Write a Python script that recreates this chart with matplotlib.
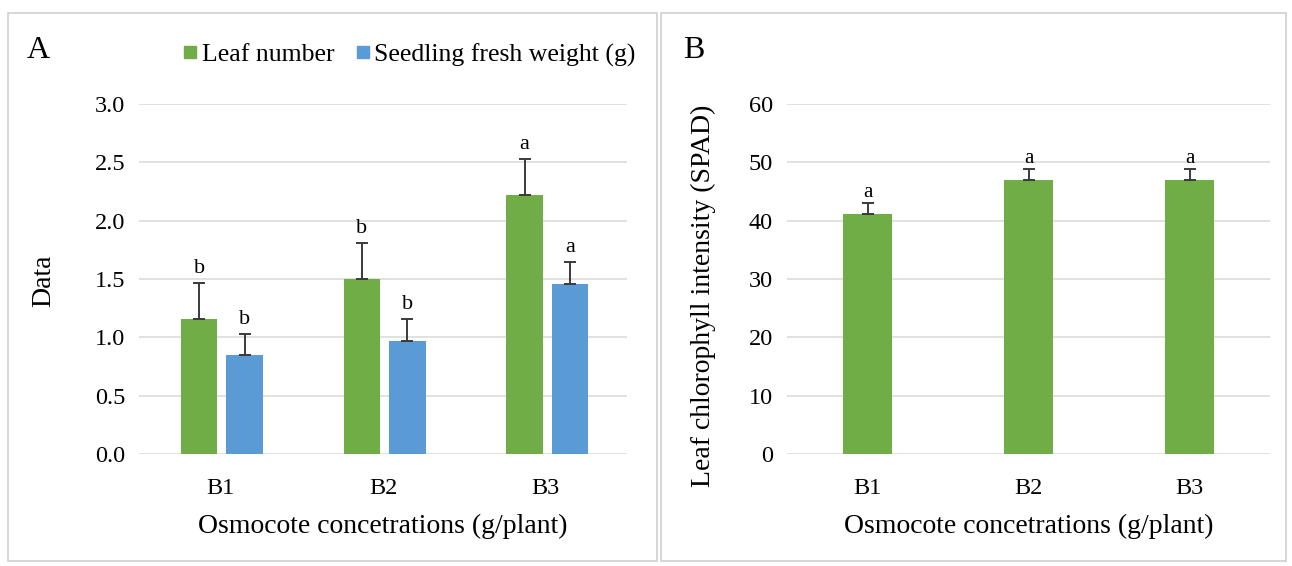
import matplotlib
matplotlib.use("Agg")
import matplotlib.pyplot as plt
from matplotlib.patches import Rectangle
import numpy as np

# Data
categories = ["B1", "B2", "B3"]
leaf_number = [1.16, 1.50, 2.22]
leaf_number_err = [0.31, 0.31, 0.31]
leaf_number_sig = ["b", "b", "a"]
fresh_weight = [0.85, 0.97, 1.46]
fresh_weight_err = [0.18, 0.19, 0.19]
fresh_weight_sig = ["b", "b", "a"]
spad = [41.1, 47.0, 47.0]
spad_err = [2.0, 1.9, 1.9]
spad_sig = ["a", "a", "a"]

green = "#70AD47"
blue = "#5B9BD5"
grid_col = "#D9D9D9"
err_col = "#3A3A3A"

plt.rcParams["font.family"] = ["Liberation Serif", "DejaVu Serif"]

W, H = 1292, 566
fig = plt.figure(figsize=(W / 100, H / 100), dpi=100)


def px_axes(x0, y0, x1, y1):
    # pixel box (top-left origin) -> figure axes
    return fig.add_axes([x0 / W, 1 - y1 / H, (x1 - x0) / W, (y1 - y0) / H])


def style_axes(ax, ymax, yticks, fmt):
    ax.set_ylim(0, ymax)
    ax.set_xlim(-0.5, 2.5)
    ax.set_yticks(yticks)
    ax.set_yticklabels([fmt.format(t) for t in yticks])
    ax.yaxis.grid(True, color=grid_col, linewidth=1.1)
    ax.set_axisbelow(True)
    for s in ax.spines.values():
        s.set_visible(False)
    ax.tick_params(axis="both", length=0, labelsize=17.5)
    ax.tick_params(axis="y", pad=10)
    ax.tick_params(axis="x", pad=17)
    ax.set_xticks(np.arange(len(categories)))
    ax.set_xticklabels(categories)
    ax.set_xlabel("Osmocote concetrations (g/plant)", fontsize=20, labelpad=11)


def bars_with_err(ax, x, vals, errs, sig, color, width, gap_px, sig_size):
    ax.bar(x, vals, width=width, color=color, zorder=2)
    ax.errorbar(x, vals, yerr=[np.zeros(len(errs)), errs], fmt="none",
                ecolor=err_col, elinewidth=1.4, capsize=4.5, capthick=1.4, zorder=3)
    for xi, v, e, s in zip(x, vals, errs, sig):
        ax.annotate(s, (xi, v + e), xytext=(0, gap_px * 0.72), textcoords="offset points",
                    ha="center", va="bottom", fontsize=sig_size)


def place_ylabel(ax, text, cx, cy):
    ax.set_ylabel(text, fontsize=20)
    # label is anchored on its lower edge, ~14 px right of its centre
    bb = ax.get_position()
    ax.yaxis.set_label_coords(((cx + 14) / W - bb.x0) / bb.width, ((1 - cy / H) - bb.y0) / bb.height)


# panel frames
fig.add_artist(Rectangle((8 / W, 1 - 561 / H), 649 / W, 548 / H, transform=fig.transFigure,
                         fill=False, edgecolor="#D0D0D0", linewidth=1.2))
fig.add_artist(Rectangle((661 / W, 1 - 561 / H), 625 / W, 548 / H, transform=fig.transFigure,
                         fill=False, edgecolor="#D0D0D0", linewidth=1.2))

x = np.arange(len(categories))

# Panel A
axA = px_axes(139, 104, 627, 454)
style_axes(axA, 3.0, np.arange(0, 3.01, 0.5), "{:.1f}")
bars_with_err(axA, x - 0.13, leaf_number, leaf_number_err, leaf_number_sig, green, 0.225, 5, 16)
bars_with_err(axA, x + 0.15, fresh_weight, fresh_weight_err, fresh_weight_sig, blue, 0.225, 5, 16)
place_ylabel(axA, "Data", 42, 281)
fig.text(27 / W, 1 - 50 / H, "A", fontsize=23, va="center", ha="left")

hA = [plt.Line2D([], [], marker="s", linestyle="none", color=green, markersize=9),
      plt.Line2D([], [], marker="s", linestyle="none", color=blue, markersize=9)]
fig.legend(hA, ["Leaf number", "Seedling fresh weight (g)"], loc="center",
           bbox_to_anchor=(409 / W, 1 - 55 / H), ncol=2, frameon=False, fontsize=18.5,
           handlelength=0.6, handletextpad=0.15, columnspacing=0.8, borderaxespad=0)

# Panel B
axB = px_axes(787, 104, 1270, 454)
style_axes(axB, 60, np.arange(0, 61, 10), "{:.0f}")
bars_with_err(axB, x, spad, spad_err, spad_sig, green, 0.31, 1, 15)
place_ylabel(axB, "Leaf chlorophyll intensity (SPAD)", 702, 296)
fig.text(683 / W, 1 - 50 / H, "B", fontsize=23, va="center", ha="left")

fig.savefig("out.png", dpi=100)
